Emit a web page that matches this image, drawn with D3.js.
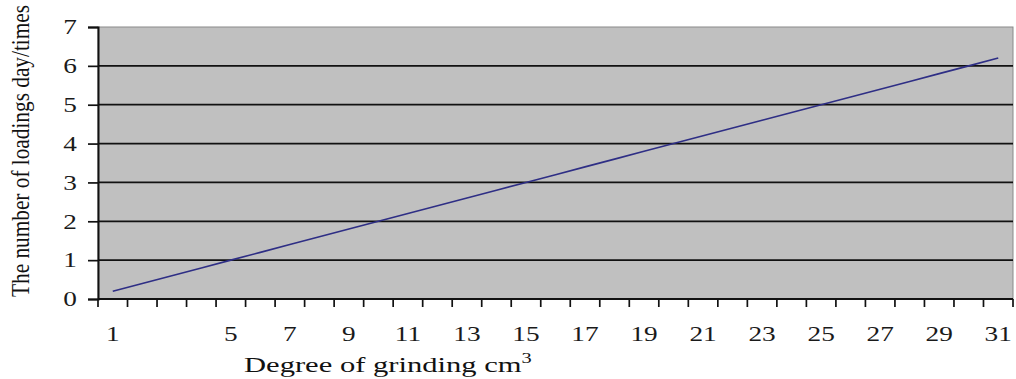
<!DOCTYPE html>
<html><head><meta charset="utf-8">
<script src="https://cdn.jsdelivr.net/npm/d3@7"></script>
<style>body{margin:0;background:#fff}svg{display:block}</style>
</head><body><svg id="c" width="1016" height="379"></svg>
<script>
const categories = [1,2,3,4,5,6,7,8,9,10,11,12,13,14,15,16,17,18,19,20,21,22,23,24,25,26,27,28,29,30,31];
const values = [0.2,0.4,0.6,0.8,1.0,1.2,1.4,1.6,1.8,2.0,2.2,2.4,2.6,2.8,3.0,3.2,3.4,3.6,3.8,4.0,4.2,4.4,4.6,4.8,5.0,5.2,5.4,5.6,5.8,6.0,6.2];
const xTickLabels = ["1","5","7","9","11","13","15","17","19","21","23","25","27","29","31"];
const yTicks = [0,1,2,3,4,5,6,7];
const xTitle = "Degree of grinding cm";
const yTitle = "The number of loadings day/times";

const FONT = "'Liberation Serif', 'Times New Roman', 'DejaVu Serif', serif";
const STRETCH = 1.3;
const svg = d3.select("#c");
const m = {l:98, r:1013, t:27, b:299};
const x = d3.scaleBand().domain(categories).range([m.l, m.r]).paddingInner(0).paddingOuter(0);
const y = d3.scaleLinear().domain([0,7]).range([m.b, m.t]);

svg.append("rect").attr("x", m.l).attr("y", m.t).attr("width", m.r-m.l).attr("height", m.b-m.t)
  .attr("fill", "#c0c0c0").attr("stroke", "#8a8a8a").attr("stroke-width", 1);

// gridlines
svg.append("g").selectAll("line").data(yTicks.filter(d=>d>0 && d<7)).join("line")
  .attr("x1", m.l).attr("x2", m.r).attr("y1", d=>y(d)).attr("y2", d=>y(d))
  .attr("stroke", "#111").attr("stroke-width", 1.7);

// y axis
const ya = svg.append("g").attr("transform", `translate(${m.l},0)`)
  .call(d3.axisLeft(y).tickValues(yTicks).tickSize(10).tickFormat(d3.format("d")));
ya.select(".domain").attr("stroke", "#111").attr("stroke-width", 2);
ya.selectAll(".tick line").attr("stroke", "#111").attr("stroke-width", 1.7);
ya.selectAll(".tick text").remove();
svg.append("g").selectAll("text").data(yTicks).join("text")
  .attr("transform", d => `translate(70,${y(d)}) scale(${STRETCH},1)`)
  .attr("dy", "0.35em").attr("text-anchor", "middle").attr("font-size", 21)
  .attr("fill", "#1a1a1a").style("font-family", FONT).text(d => d3.format("d")(d));

// x axis
const edges = categories.map(c => x(c)).concat([m.r]);
const xa = svg.append("g");
xa.append("line").attr("x1", m.l).attr("x2", m.r).attr("y1", m.b).attr("y2", m.b).attr("stroke", "#111").attr("stroke-width", 2);
xa.selectAll("line.tk").data(edges).join("line").attr("class","tk")
  .attr("x1", d=>d).attr("x2", d=>d).attr("y1", m.b).attr("y2", m.b+8)
  .attr("stroke", "#111").attr("stroke-width", 1.7);
xa.selectAll("text").data(xTickLabels).join("text")
  .attr("transform", d => `translate(${x(+d) + x.bandwidth()/2},${m.b+42}) scale(${STRETCH},1)`)
  .attr("text-anchor", "middle").attr("font-size", 21).attr("fill", "#1a1a1a")
  .style("font-family", FONT).text(d=>d);

// line
svg.append("path").datum(values)
  .attr("d", d3.line().x((d,i)=>x(categories[i]) + x.bandwidth()/2).y(d=>y(d)))
  .attr("fill", "none").attr("stroke", "#2e2e85").attr("stroke-width", 1.6);

// x title
const xt = svg.append("text").attr("font-size", 21).attr("fill", "#111").style("font-family", FONT);
xt.append("tspan").text(xTitle);
xt.append("tspan").attr("font-size", 14).attr("dy", "-0.65em").text("3");
const w = xt.node().getBBox().width;
xt.attr("transform", `translate(244,372) scale(${288 / w},1)`);

// y title
svg.append("text").attr("transform", `translate(29,151) scale(1.15,1) rotate(-90)`).attr("text-anchor", "middle")
  .attr("font-size", 21.3).attr("fill", "#111").style("font-family", FONT).text(yTitle);
</script></body></html>
